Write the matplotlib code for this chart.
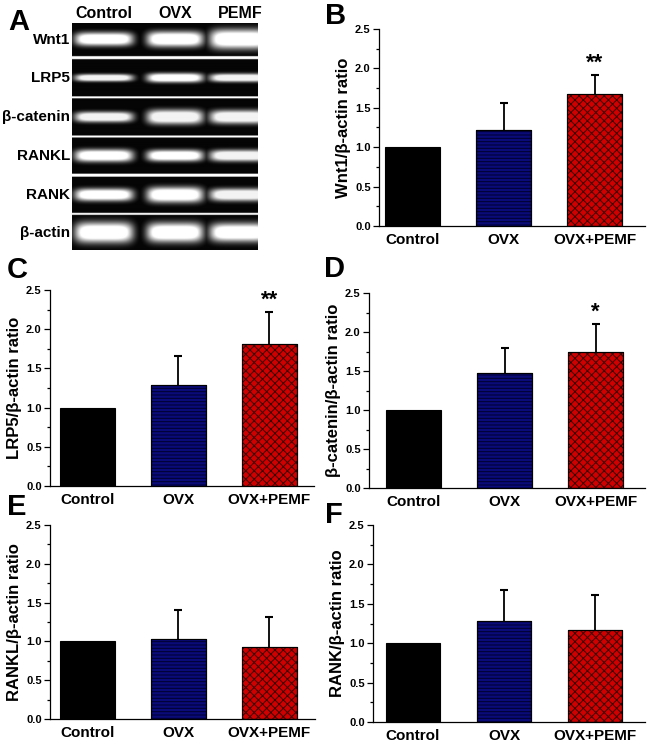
import numpy as np
import matplotlib
matplotlib.use("Agg")
import matplotlib.pyplot as plt

plt.rcParams['font.family'] = ['Liberation Sans', 'DejaVu Sans']
plt.rcParams['font.weight'] = 'bold'
plt.rcParams['hatch.linewidth'] = 0.7

# --- data ---
groups = ['Control', 'OVX', 'OVX+PEMF']

wnt1_mean = [1.0, 1.22, 1.67]
wnt1_err = [0.0, 0.34, 0.24]
lrp5_mean = [1.0, 1.29, 1.81]
lrp5_err = [0.0, 0.37, 0.41]
bcat_mean = [1.0, 1.48, 1.74]
bcat_err = [0.0, 0.32, 0.36]
rankl_mean = [1.0, 1.03, 0.93]
rankl_err = [0.0, 0.38, 0.39]
rank_mean = [1.0, 1.28, 1.17]
rank_err = [0.0, 0.39, 0.44]

# gel panel: band thickness (px) per row, per lane
gel_rows = ['Wnt1', 'LRP5', 'β-catenin', 'RANKL', 'RANK', 'β-actin']
gel_lanes = ['Control', 'OVX', 'PEMF']
band_thick = [
    [13, 15, 19],
    [7, 9, 8],
    [10, 14, 13],
    [12, 11, 11],
    [12, 15, 12],
    [20, 19, 18],
]
band_bright = [
    [1.0, 1.0, 1.0],
    [0.95, 1.0, 0.95],
    [0.95, 0.95, 0.95],
    [1.0, 1.0, 0.95],
    [1.0, 1.0, 0.95],
    [1.0, 1.0, 1.0],
]

W, H = 647, 744
fig = plt.figure(figsize=(W / 100, H / 100), dpi=100)


def px_axes(left, right, top, bottom):
    return fig.add_axes([left / W, 1 - bottom / H, (right - left) / W, (bottom - top) / H])


# --- panel A: gel ---
gel_l, gel_r, gel_t, gel_b = 72, 258, 23, 250
row_tops = [23, 60, 99, 138, 177, 215]
row_bots = [57, 97, 136, 174, 213, 250]
lane_cx = [104, 175, 240]
lane_hw = [29, 28, 30]

scale = 3
gw = (gel_r - gel_l) * scale
gh = (gel_b - gel_t) * scale
img = np.ones((gh, gw))  # white separators
xx = gel_l + (np.arange(gw) + 0.5) / scale
for i in range(len(gel_rows)):
    r0 = int((row_tops[i] - gel_t) * scale)
    r1 = int((row_bots[i] - gel_t) * scale)
    yy = gel_t + (np.arange(r0, r1) + 0.5) / scale
    cy = (row_tops[i] + row_bots[i]) / 2
    block = np.zeros((r1 - r0, gw)) + 0.02
    for j in range(len(gel_lanes)):
        hy = band_thick[i][j] / 2
        fx = np.exp(-np.abs((xx - lane_cx[j]) / lane_hw[j]) ** 6)
        fy = np.exp(-np.abs((yy - cy) / hy) ** 2.5)
        block = np.maximum(block, band_bright[i][j] * np.clip(1.3 * np.outer(fy, fx), 0, 1))
    img[r0:r1, :] = block
axg = px_axes(gel_l, gel_r, gel_t, gel_b)
axg.imshow(img, cmap='gray', vmin=0, vmax=1, aspect='auto', interpolation='bilinear',
           extent=[gel_l, gel_r, gel_b, gel_t])
axg.axis('off')
for j, lab in enumerate(gel_lanes):
    fig.text(lane_cx[j] / W, 1 - 13 / H, lab, ha='center', va='center', fontsize=11.5, fontweight='bold')
for i, lab in enumerate(gel_rows):
    cy = (row_tops[i] + row_bots[i]) / 2
    fig.text(70 / W, 1 - cy / H, lab, ha='right', va='center', fontsize=11, fontweight='bold')

# --- bar panels ---
panels = [
    # left, right, top, bottom, xleft, mean, err, ylabel, star
    (379, 645, 29, 226, 0.63, wnt1_mean, wnt1_err, 'Wnt1/β-actin ratio', '**'),
    (50, 314, 290, 486, 0.59, lrp5_mean, lrp5_err, 'LRP5/β-actin ratio', '**'),
    (369, 645, 293, 488, 0.51, bcat_mean, bcat_err, 'β-catenin/β-actin ratio', '*'),
    (50, 315, 525, 719, 0.59, rankl_mean, rankl_err, 'RANKL/β-actin ratio', ''),
    (373, 645, 525, 722, 0.56, rank_mean, rank_err, 'RANK/β-actin ratio', ''),
]
face = ['#000000', '#0a0a78', '#d00000']
hatch_col = ['#000000', '#000030', '#3a0000']
hatches = ['', '-----', 'xxxx']

for left, right, top, bottom, xl, mean, err, ylab, star in panels:
    ax = px_axes(left, right, top, bottom)
    x = np.arange(1, len(groups) + 1)
    for k in range(len(groups)):
        if err[k] > 0:
            # upper-only error bar with a small cap
            ax.vlines(x[k], mean[k], mean[k] + err[k], color='black', linewidth=1.3, zorder=1)
            ax.plot([x[k]], [mean[k] + err[k]], marker='_', markersize=6, mew=1.5,
                    color='black', zorder=1)
        ax.bar(x[k], mean[k], width=0.6, color=face[k], edgecolor='black', linewidth=0.8, zorder=2)
        if hatches[k]:
            ax.bar(x[k], mean[k], width=0.6, color='none', edgecolor=hatch_col[k],
                   hatch=hatches[k], linewidth=0, zorder=3)
            ax.bar(x[k], mean[k], width=0.6, color='none', edgecolor='black', linewidth=0.8, zorder=4)
    if star:
        ax.text(x[2], mean[2] + err[2] + 0.02, star, ha='center', va='bottom',
                fontsize=16, fontweight='bold')
    ax.set_ylim(0, 2.5)
    ax.set_xlim(xl, xl + (right - left) / 91.0)
    ax.set_yticks(np.arange(0, 2.51, 0.5))
    ax.set_yticks(np.arange(0, 2.51, 0.25), minor=True)
    ax.set_yticklabels(['%.1f' % v for v in np.arange(0, 2.51, 0.5)], fontsize=8, fontweight='bold')
    ax.set_xticks(x)
    ax.set_xticklabels(groups, fontsize=11, fontweight='bold')
    ax.tick_params(axis='x', length=0, pad=5)
    ax.tick_params(axis='y', which='major', direction='out', length=4, width=0.9, pad=2)
    ax.tick_params(axis='y', which='minor', direction='out', length=2, width=0.9)
    ax.set_ylabel(ylab, fontsize=12, fontweight='bold', labelpad=3)
    ax.spines['top'].set_visible(False)
    ax.spines['right'].set_visible(False)
    ax.spines['left'].set_linewidth(0.9)
    ax.spines['bottom'].set_linewidth(0.9)
    ax.patch.set_alpha(0)

# panel letters
letters = ['A', 'B', 'C', 'D', 'E', 'F']
letter_x = [8, 325, 7, 324, 7, 325]
letter_base = [30, 24, 278, 277, 515, 523]
for lab, lx, ly in zip(letters, letter_x, letter_base):
    fig.text(lx / W, 1 - ly / H, lab, ha='left', va='baseline', fontsize=21, fontweight='bold')

fig.savefig('out.png', dpi=100)
